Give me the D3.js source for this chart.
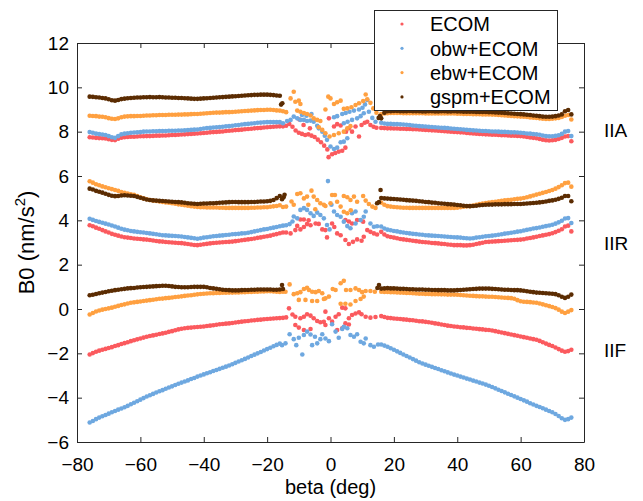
<!DOCTYPE html>
<html><head><meta charset="utf-8">
<script src="https://cdn.jsdelivr.net/npm/d3@7"></script>
<style>
body{margin:0;background:#fff}
svg{display:block}
text{font-family:"Liberation Sans",Arial,Helvetica,sans-serif;fill:#000}
</style>
</head><body>
<svg id="chart" width="643" height="501"></svg>
<script>
// ---------------- DATA ----------------
const seriesNames = ["ECOM", "obw+ECOM", "ebw+ECOM", "gspm+ECOM"];
const groupNames = ["IIA", "IIR", "IIF"];
const xTicks = [-80, -60, -40, -20, 0, 20, 40, 60, 80];
const yTicks = [-6, -4, -2, 0, 2, 4, 6, 8, 10, 12];

// beta sample grid of the smooth bands (deg)
const betaL = d3.range(-76, -15, 1);   // -76 .. -16
const betaR = d3.range(16, 77, 1);     //  16 .. 76

// ----- IIA -----
const IIA_ECOM_L = [7.75,7.74,7.72,7.71,7.70,7.69,7.66,7.63,7.62,7.68,7.73,7.75,7.76,7.77,7.77,7.78,7.79,7.79,7.80,7.80,7.81,7.82,7.82,7.83,7.83,7.84,7.85,7.85,7.86,7.87,7.88,7.89,7.90,7.91,7.92,7.93,7.94,7.95,7.97,7.98,7.99,8.00,8.01,8.03,8.04,8.05,8.07,8.08,8.09,8.11,8.12,8.13,8.15,8.16,8.17,8.19,8.20,8.21,8.22,8.23,8.24];
const IIA_ECOM_R = [8.17,8.16,8.15,8.15,8.14,8.14,8.13,8.13,8.12,8.12,8.11,8.11,8.10,8.09,8.08,8.07,8.06,8.05,8.04,8.03,8.02,8.01,8.00,7.99,7.98,7.97,7.96,7.94,7.93,7.92,7.91,7.90,7.89,7.88,7.87,7.86,7.86,7.85,7.84,7.84,7.83,7.82,7.82,7.81,7.80,7.78,7.76,7.74,7.72,7.70,7.67,7.64,7.61,7.60,7.61,7.63,7.67,7.72,7.78,7.80,7.57];
const IIA_OBW_L = [7.98,7.95,7.91,7.89,7.87,7.85,7.80,7.75,7.72,7.80,7.88,7.91,7.93,7.95,7.96,7.97,7.98,8.00,8.01,8.01,8.02,8.02,8.03,8.03,8.03,8.04,8.04,8.04,8.05,8.05,8.06,8.07,8.08,8.09,8.10,8.12,8.14,8.16,8.17,8.19,8.20,8.21,8.22,8.24,8.25,8.27,8.29,8.30,8.32,8.34,8.35,8.37,8.38,8.40,8.41,8.42,8.43,8.43,8.43,8.43,8.43];
const IIA_OBW_R = [8.40,8.37,8.35,8.35,8.34,8.34,8.33,8.32,8.31,8.30,8.28,8.27,8.25,8.24,8.23,8.22,8.21,8.20,8.19,8.18,8.17,8.16,8.14,8.13,8.12,8.11,8.10,8.08,8.07,8.06,8.05,8.04,8.03,8.03,8.02,8.01,8.01,8.00,7.99,7.99,7.98,7.97,7.97,7.96,7.95,7.94,7.92,7.91,7.89,7.88,7.86,7.83,7.80,7.79,7.79,7.81,7.84,7.90,8.00,8.03,7.80];
const IIA_EBW_L = [8.72,8.71,8.70,8.68,8.67,8.65,8.61,8.58,8.57,8.60,8.65,8.68,8.69,8.70,8.70,8.71,8.71,8.72,8.73,8.73,8.74,8.74,8.75,8.75,8.75,8.76,8.76,8.76,8.77,8.77,8.78,8.78,8.79,8.80,8.80,8.81,8.82,8.83,8.84,8.85,8.86,8.86,8.87,8.88,8.88,8.89,8.90,8.91,8.92,8.93,8.94,8.95,8.96,8.97,8.98,8.98,8.99,8.99,8.98,8.96,8.95];
const IIA_EBW_R = [8.80,8.82,8.83,8.84,8.84,8.84,8.84,8.83,8.83,8.83,8.83,8.83,8.83,8.83,8.82,8.82,8.82,8.82,8.82,8.82,8.82,8.82,8.82,8.82,8.81,8.81,8.80,8.80,8.80,8.79,8.79,8.79,8.78,8.78,8.78,8.77,8.76,8.75,8.74,8.73,8.72,8.71,8.70,8.69,8.68,8.67,8.66,8.64,8.63,8.62,8.60,8.58,8.57,8.57,8.58,8.60,8.62,8.66,8.72,8.75,8.55];
const IIA_GSPM_L = [9.58,9.57,9.55,9.54,9.52,9.50,9.46,9.42,9.40,9.43,9.47,9.49,9.51,9.52,9.53,9.54,9.54,9.55,9.55,9.56,9.55,9.55,9.56,9.55,9.54,9.54,9.53,9.53,9.52,9.52,9.51,9.50,9.49,9.48,9.48,9.49,9.50,9.51,9.52,9.53,9.54,9.55,9.56,9.57,9.58,9.59,9.60,9.61,9.62,9.63,9.64,9.65,9.66,9.66,9.67,9.67,9.67,9.66,9.65,9.63,9.62];
const IIA_GSPM_R = [8.60,8.85,8.92,8.92,8.93,8.93,8.92,8.92,8.92,8.93,8.92,8.92,8.92,8.91,8.91,8.92,8.92,8.91,8.91,8.92,8.92,8.91,8.91,8.92,8.91,8.91,8.90,8.90,8.90,8.90,8.89,8.89,8.89,8.89,8.88,8.88,8.87,8.86,8.85,8.84,8.83,8.82,8.81,8.80,8.79,8.78,8.76,8.75,8.73,8.72,8.70,8.68,8.67,8.67,8.68,8.70,8.73,8.78,8.92,8.98,8.78];

// ----- IIR -----
const IIR_ECOM_L = [3.78,3.73,3.67,3.62,3.56,3.50,3.45,3.39,3.35,3.31,3.27,3.24,3.22,3.20,3.18,3.17,3.16,3.14,3.13,3.11,3.09,3.07,3.05,3.04,3.02,3.01,3.00,2.99,2.98,2.97,2.95,2.93,2.91,2.89,2.88,2.90,2.92,2.94,2.96,2.98,2.99,3.00,3.01,3.02,3.03,3.04,3.06,3.08,3.10,3.12,3.14,3.16,3.18,3.21,3.23,3.26,3.28,3.31,3.35,3.38,3.42];
const IIR_ECOM_R = [3.48,3.36,3.28,3.25,3.22,3.19,3.16,3.14,3.12,3.10,3.08,3.06,3.04,3.02,3.01,3.00,2.98,2.97,2.96,2.94,2.93,2.91,2.90,2.88,2.88,2.88,2.87,2.87,2.88,2.90,2.93,2.96,2.99,3.02,3.03,3.04,3.05,3.06,3.07,3.08,3.09,3.10,3.11,3.12,3.13,3.15,3.18,3.20,3.23,3.26,3.29,3.32,3.35,3.38,3.42,3.47,3.53,3.60,3.72,3.76,3.50];
const IIR_OBW_L = [4.07,4.02,3.97,3.93,3.89,3.85,3.81,3.77,3.72,3.67,3.62,3.58,3.55,3.52,3.50,3.48,3.46,3.45,3.43,3.41,3.39,3.37,3.35,3.33,3.32,3.31,3.30,3.29,3.28,3.27,3.25,3.23,3.21,3.19,3.17,3.19,3.22,3.24,3.26,3.28,3.29,3.31,3.32,3.34,3.35,3.37,3.38,3.39,3.41,3.42,3.44,3.47,3.50,3.53,3.56,3.59,3.61,3.64,3.67,3.70,3.73];
const IIR_OBW_R = [3.72,3.63,3.58,3.55,3.52,3.50,3.47,3.45,3.43,3.41,3.39,3.38,3.36,3.35,3.33,3.32,3.31,3.30,3.29,3.28,3.27,3.26,3.25,3.24,3.23,3.22,3.20,3.19,3.18,3.19,3.22,3.24,3.26,3.28,3.29,3.31,3.33,3.35,3.37,3.40,3.42,3.44,3.46,3.49,3.51,3.54,3.57,3.60,3.63,3.65,3.68,3.71,3.74,3.77,3.80,3.85,3.91,3.98,4.08,4.10,3.88];
const IIR_EBW_L = [5.76,5.70,5.63,5.58,5.53,5.49,5.45,5.41,5.37,5.33,5.28,5.24,5.21,5.18,5.15,5.10,5.04,4.99,4.95,4.92,4.89,4.87,4.85,4.83,4.81,4.79,4.77,4.75,4.72,4.70,4.68,4.66,4.64,4.62,4.60,4.59,4.59,4.58,4.58,4.58,4.58,4.57,4.57,4.56,4.56,4.56,4.56,4.56,4.56,4.56,4.56,4.57,4.57,4.58,4.58,4.59,4.59,4.61,4.63,4.65,4.68];
const IIR_EBW_R = [4.80,4.70,4.64,4.62,4.60,4.59,4.58,4.57,4.57,4.56,4.56,4.56,4.56,4.56,4.56,4.56,4.56,4.56,4.56,4.56,4.56,4.56,4.56,4.56,4.57,4.59,4.61,4.63,4.64,4.67,4.70,4.73,4.76,4.78,4.80,4.82,4.84,4.86,4.88,4.90,4.92,4.93,4.95,4.97,4.98,5.01,5.04,5.08,5.12,5.16,5.20,5.24,5.28,5.32,5.37,5.43,5.50,5.58,5.68,5.70,5.52];
const IIR_GSPM_L = [5.43,5.39,5.33,5.29,5.25,5.20,5.15,5.11,5.09,5.10,5.12,5.13,5.12,5.11,5.10,5.06,5.02,4.98,4.94,4.92,4.90,4.89,4.88,4.87,4.86,4.85,4.84,4.83,4.82,4.81,4.79,4.77,4.76,4.75,4.74,4.75,4.76,4.76,4.77,4.77,4.78,4.79,4.80,4.81,4.82,4.83,4.83,4.82,4.82,4.82,4.82,4.83,4.83,4.84,4.85,4.85,4.86,4.88,4.92,5.00,5.10];
const IIR_GSPM_R = [5.01,4.99,4.98,4.97,4.96,4.95,4.94,4.93,4.91,4.90,4.89,4.88,4.86,4.85,4.83,4.82,4.80,4.79,4.77,4.76,4.75,4.73,4.72,4.71,4.69,4.68,4.66,4.65,4.64,4.65,4.66,4.68,4.69,4.70,4.71,4.71,4.72,4.72,4.72,4.73,4.73,4.73,4.74,4.74,4.74,4.75,4.76,4.77,4.78,4.79,4.81,4.83,4.85,4.88,4.90,4.93,4.97,5.02,5.10,5.10,4.86];

// ----- IIF -----
const IIF_ECOM_L = [-2.05,-1.99,-1.93,-1.88,-1.84,-1.80,-1.76,-1.72,-1.67,-1.63,-1.58,-1.54,-1.50,-1.45,-1.41,-1.37,-1.33,-1.29,-1.25,-1.22,-1.19,-1.16,-1.13,-1.10,-1.07,-1.03,-1.00,-0.96,-0.92,-0.89,-0.87,-0.85,-0.84,-0.82,-0.81,-0.80,-0.79,-0.77,-0.75,-0.73,-0.71,-0.69,-0.68,-0.66,-0.65,-0.63,-0.61,-0.59,-0.57,-0.55,-0.54,-0.52,-0.51,-0.49,-0.48,-0.46,-0.45,-0.44,-0.43,-0.42,-0.41];
const IIF_ECOM_R = [-0.32,-0.36,-0.40,-0.41,-0.43,-0.44,-0.45,-0.47,-0.48,-0.50,-0.51,-0.53,-0.55,-0.56,-0.58,-0.60,-0.62,-0.65,-0.67,-0.70,-0.72,-0.75,-0.77,-0.79,-0.80,-0.82,-0.83,-0.85,-0.86,-0.88,-0.89,-0.91,-0.92,-0.94,-0.95,-0.97,-1.00,-1.03,-1.06,-1.09,-1.12,-1.15,-1.18,-1.21,-1.24,-1.27,-1.30,-1.33,-1.36,-1.39,-1.44,-1.50,-1.56,-1.62,-1.67,-1.74,-1.81,-1.88,-1.93,-1.90,-1.84];
const IIF_OBW_L = [-5.12,-5.05,-4.97,-4.90,-4.84,-4.78,-4.72,-4.66,-4.60,-4.54,-4.49,-4.43,-4.37,-4.30,-4.23,-4.16,-4.09,-4.02,-3.95,-3.89,-3.83,-3.77,-3.71,-3.66,-3.60,-3.54,-3.49,-3.43,-3.37,-3.32,-3.27,-3.22,-3.16,-3.11,-3.05,-3.00,-2.95,-2.90,-2.85,-2.80,-2.75,-2.70,-2.65,-2.60,-2.55,-2.49,-2.43,-2.37,-2.31,-2.25,-2.19,-2.12,-2.06,-2.00,-1.94,-1.87,-1.81,-1.75,-1.68,-1.62,-1.56];
const IIF_OBW_R = [-1.60,-1.65,-1.70,-1.77,-1.84,-1.91,-1.98,-2.05,-2.12,-2.19,-2.26,-2.33,-2.40,-2.46,-2.51,-2.56,-2.61,-2.66,-2.71,-2.76,-2.81,-2.86,-2.91,-2.96,-3.00,-3.05,-3.09,-3.14,-3.18,-3.23,-3.27,-3.32,-3.36,-3.41,-3.46,-3.52,-3.58,-3.64,-3.70,-3.76,-3.82,-3.88,-3.94,-4.00,-4.06,-4.12,-4.18,-4.25,-4.31,-4.37,-4.42,-4.48,-4.54,-4.60,-4.66,-4.74,-4.83,-4.93,-5.00,-4.97,-4.90];
const IIF_EBW_L = [-0.25,-0.18,-0.11,-0.07,-0.03,0.00,0.03,0.06,0.10,0.14,0.18,0.21,0.25,0.28,0.30,0.32,0.34,0.36,0.38,0.40,0.42,0.44,0.46,0.47,0.49,0.50,0.52,0.54,0.55,0.57,0.59,0.61,0.62,0.64,0.66,0.68,0.69,0.70,0.71,0.71,0.72,0.72,0.73,0.73,0.74,0.74,0.75,0.75,0.76,0.76,0.77,0.77,0.78,0.78,0.79,0.79,0.80,0.80,0.79,0.78,0.77];
const IIF_EBW_R = [0.78,0.77,0.77,0.76,0.76,0.75,0.74,0.73,0.72,0.72,0.71,0.70,0.69,0.69,0.68,0.68,0.67,0.67,0.67,0.66,0.66,0.65,0.65,0.65,0.64,0.63,0.62,0.61,0.60,0.59,0.58,0.57,0.57,0.56,0.55,0.55,0.54,0.53,0.52,0.51,0.50,0.49,0.46,0.40,0.35,0.33,0.32,0.31,0.29,0.28,0.25,0.21,0.17,0.13,0.09,0.04,-0.03,-0.12,-0.18,-0.12,-0.05];
const IIF_GSPM_L = [0.62,0.64,0.68,0.71,0.74,0.77,0.80,0.82,0.85,0.87,0.89,0.91,0.93,0.94,0.95,0.97,0.98,0.99,1.00,1.01,1.02,1.03,1.04,1.05,1.05,1.04,1.02,1.00,0.99,0.98,0.98,0.98,0.99,1.00,1.00,1.00,1.00,0.98,0.95,0.93,0.91,0.89,0.87,0.86,0.85,0.84,0.84,0.84,0.85,0.86,0.86,0.87,0.87,0.88,0.88,0.88,0.88,0.88,0.87,0.87,0.88];
const IIF_GSPM_R = [0.92,0.93,0.94,0.93,0.93,0.92,0.91,0.91,0.90,0.89,0.89,0.88,0.88,0.88,0.87,0.87,0.86,0.86,0.85,0.85,0.85,0.84,0.84,0.84,0.85,0.86,0.87,0.88,0.89,0.90,0.91,0.92,0.92,0.92,0.92,0.91,0.90,0.89,0.88,0.87,0.87,0.86,0.85,0.85,0.84,0.82,0.80,0.78,0.76,0.74,0.73,0.72,0.71,0.70,0.69,0.67,0.62,0.55,0.50,0.55,0.65];

// ----- scattered points near beta = 0: [beta, B0] -----
const IIA_ECOM_C = [[-15,8.24],[-14,8.27],[-13,8.35],[-12,8.22],[-11,8.05],[-10,7.95],[-9,7.90],[-8,7.85],[-7,7.88],[-6,7.82],[-5,7.76],[-4,7.64],[-3,7.52],[-2,7.37],[-1,7.20],[-0.6,6.85],[0.5,6.98],[1.5,7.04],[2.6,7.10],[3.7,7.14],[4.7,7.28],[-0.5,8.60],[1.1,8.23],[2.1,8.34],[3.2,8.28],[4.9,8.00],[5.8,8.15],[6.8,8.00],[7.9,8.23],[9.0,7.78],[9.8,8.30],[10.8,8.40],[11.6,8.45],[12.6,8.30],[13.6,8.22],[14.5,8.18],[-8.5,8.30],[-6.5,8.15],[-9.8,8.55]];
const IIA_OBW_C = [[-15,8.38],[-13.7,8.48],[-12.6,8.53],[-11.6,8.68],[-10.5,8.60],[-9.5,8.53],[-8.4,8.53],[-7.4,8.48],[-6.3,8.50],[-5.3,8.45],[-4.2,8.27],[-3.7,8.15],[-2.6,8.00],[-1.8,7.82],[-1.1,7.63],[0,7.33],[1.1,7.22],[2.1,7.28],[3.2,7.52],[4.2,7.55],[5.3,7.70],[-9.0,8.75],[-7.6,8.72],[-6,8.80],[1.1,8.65],[2.1,8.70],[3.7,8.80],[4.8,8.84],[6.0,8.90],[7.4,8.95],[9.0,9.00],[10.1,9.08],[10.9,9.23],[11.6,9.43],[4.2,8.38],[5.4,8.45],[6.8,8.53],[8.4,8.60],[9.5,8.70],[10.5,8.83],[12.1,8.90],[13.2,8.62],[14.2,8.45]];
const IIA_EBW_C = [[-15,8.92],[-14,8.88],[-12.6,9.50],[-11.6,9.80],[-11.1,9.35],[-10,9.40],[-9.5,9.25],[-10.5,8.95],[-9.5,8.90],[-8.4,8.84],[-7.4,8.80],[-6.3,8.73],[-5.3,8.60],[-4.2,8.53],[-3.2,8.48],[-3.7,8.20],[-2.6,8.08],[-1.6,7.93],[-0.3,7.78],[1.1,7.85],[2.6,7.93],[4.2,8.00],[5.3,8.15],[6.3,8.25],[-0.7,9.58],[0,9.50],[1.1,9.25],[2.1,9.33],[3.2,9.40],[-1.6,9.00],[4.2,9.03],[5.3,9.05],[6.6,9.10],[7.9,9.20],[9.0,9.28],[10.3,9.38],[11.1,9.68],[11.6,9.46],[12.6,9.30],[13.5,9.05],[14.5,8.85]];
const IIA_GSPM_C = [[-15.6,9.22],[-15.2,9.28],[15.2,8.62],[15.6,8.70]];

const IIR_ECOM_C = [[-15,3.45],[-14,3.45],[-12.6,3.41],[-11.1,3.56],[-9.5,3.59],[-8.4,3.70],[-7.4,3.83],[-6.3,3.78],[-4.7,3.86],[-3.7,3.84],[-2.6,3.59],[-1.6,3.56],[-1.1,3.23],[0.5,3.86],[2.1,3.41],[3.2,3.33],[4.7,3.11],[5.8,2.93],[7.1,3.03],[8.4,3.14],[9.8,3.08],[10.5,3.26],[11.6,3.56],[12.6,3.48],[13.7,3.41],[14.7,3.36],[-9.5,4.04],[-8.4,4.04],[-6.9,4.00],[4.7,4.01],[5.8,3.95],[6.8,3.86],[8.4,4.01],[10.3,3.94],[-10.5,3.75],[1.2,3.70]];
const IIR_OBW_C = [[-15,3.76],[-14,3.78],[-12.9,3.83],[-11.6,4.17],[-10.5,4.09],[-9.5,4.47],[-8.4,4.55],[-7.4,4.47],[-6.3,4.32],[-5.3,4.20],[-4.2,4.35],[-3.2,4.24],[-2.1,4.09],[-1.1,3.79],[-0.3,3.59],[-0.8,5.77],[1.1,4.40],[2.1,4.24],[3.2,4.16],[4.2,3.94],[5.3,3.74],[6.3,3.64],[7.9,3.86],[9.5,4.01],[10.5,4.16],[11.1,4.40],[12.6,3.86],[13.7,3.71],[14.7,3.73],[6.8,4.32],[7.9,4.40],[0.3,4.70],[-12,3.95]];
const IIR_EBW_C = [[-15,4.60],[-14,4.62],[-12.3,4.85],[-11.6,4.70],[-10.5,5.19],[-9.5,5.22],[-8.4,4.99],[-7.4,5.07],[-6,5.34],[-5.3,5.07],[-4.2,4.92],[-3.2,4.77],[-2.1,4.70],[-1.6,4.65],[0,4.77],[0.5,5.14],[1.4,5.14],[2.1,4.84],[3.2,4.62],[4.2,4.39],[5.3,4.32],[4.2,5.10],[5.3,5.04],[6.3,4.92],[7.4,5.07],[8.4,4.84],[10.3,5.10],[11.1,4.89],[12.1,4.74],[13.2,4.62],[14.2,4.56],[-7,4.70],[-4.8,4.50],[6.4,4.45]];
const IIR_GSPM_C = [[-15.3,4.95],[-14.8,5.04],[-14.5,5.15],[14.7,4.77],[15.3,4.82],[15.8,5.37]];

const IIF_ECOM_C = [[-15,-0.40],[-14,-0.38],[-13.1,0.03],[-12,-0.25],[-11.1,-0.35],[-9.5,-0.42],[-8.4,-0.35],[-7.4,-0.24],[-6.3,-0.30],[-5.3,-0.42],[-4.2,-0.54],[-3.2,-0.60],[-2.1,-0.58],[-1.6,-0.12],[-0.5,-0.42],[0.5,-0.57],[1.6,-0.35],[2.6,-0.24],[3.7,0.06],[4.7,0.03],[5.8,-0.42],[6.8,-0.27],[7.9,-0.20],[9.0,-0.15],[9.8,-0.24],[11.1,-0.35],[12.6,-0.39],[14.2,-0.36],[-11.1,-0.72],[-10,-0.84],[-8.4,-0.95],[-6.3,-0.90],[-1.6,-0.72],[2.1,-0.95],[3.7,-0.87],[4.7,-0.65],[5.8,-0.70]];
const IIF_OBW_C = [[-15.3,-1.63],[-14.2,-1.55],[-12.9,-1.14],[-11.6,-1.36],[-10.8,-1.63],[-10,-1.30],[-8.9,-2.05],[-8.4,-1.17],[-7.4,-1.02],[-6.3,-1.15],[-5.8,-1.63],[-4.9,-1.25],[-4.2,-1.55],[-3.2,-1.36],[-2.6,-1.14],[-1.6,-1.33],[-0.5,-1.45],[0.5,-0.69],[1.6,-1.02],[2.6,-1.30],[3.7,-0.90],[4.2,-0.80],[5.3,-0.87],[6.3,-1.17],[7.4,-1.25],[8.4,-1.14],[9.5,-1.48],[10.5,-1.55],[11.1,-1.33],[12.6,-1.63],[13.7,-1.70],[15,-1.60]];
const IIF_EBW_C = [[-15,0.78],[-14.2,0.78],[-12.9,1.11],[-11.6,0.67],[-10.5,0.71],[-9.5,0.76],[-8.4,0.90],[-7.4,0.96],[-6.8,0.86],[-5.8,0.78],[-4.7,0.76],[-3.7,0.81],[-2.6,0.71],[-1.6,0.48],[-0.5,0.56],[0.7,0.90],[1.6,0.86],[3.2,1.16],[4.2,1.27],[4.9,0.86],[6.3,0.86],[7.9,0.93],[9.0,0.86],[10,0.76],[11.1,0.81],[12.6,0.81],[14,0.78],[-10,0.41],[-7.9,0.41],[-5.8,0.36],[-4.2,0.36],[-2.1,0.45],[3.2,0.24],[4.7,0.24],[6.3,0.20],[7.9,0.36],[9.5,0.45],[10.5,0.56]];
const IIF_GSPM_C = [[-15.3,1.08],[-15,0.90],[14.8,0.95],[15.3,1.08]];

// ---------------- STYLE / LAYOUT ----------------
const colors = ["#fb5a5e", "#6ea8e0", "#ffa040", "#5b2c02"];
const M = {left: 77, right: 584, top: 43, bottom: 442};
const axisColor = "#262626";

const svg = d3.select("#chart");
const x = d3.scaleLinear().domain([-80, 80]).range([M.left, M.right]);
const y = d3.scaleLinear().domain([-6, 12]).range([M.bottom, M.top]);

// assemble point table per series
const table = {
  IIA: {L: [IIA_ECOM_L, IIA_OBW_L, IIA_EBW_L, IIA_GSPM_L], R: [IIA_ECOM_R, IIA_OBW_R, IIA_EBW_R, IIA_GSPM_R], C: [IIA_ECOM_C, IIA_OBW_C, IIA_EBW_C, IIA_GSPM_C]},
  IIR: {L: [IIR_ECOM_L, IIR_OBW_L, IIR_EBW_L, IIR_GSPM_L], R: [IIR_ECOM_R, IIR_OBW_R, IIR_EBW_R, IIR_GSPM_R], C: [IIR_ECOM_C, IIR_OBW_C, IIR_EBW_C, IIR_GSPM_C]},
  IIF: {L: [IIF_ECOM_L, IIF_OBW_L, IIF_EBW_L, IIF_GSPM_L], R: [IIF_ECOM_R, IIF_OBW_R, IIF_EBW_R, IIF_GSPM_R], C: [IIF_ECOM_C, IIF_OBW_C, IIF_EBW_C, IIF_GSPM_C]}
};
const pointsBySeries = seriesNames.map(() => []);
groupNames.forEach(g => {
  seriesNames.forEach((s, i) => {
    table[g].L[i].forEach((v, k) => pointsBySeries[i].push([betaL[k], v]));
    table[g].R[i].forEach((v, k) => pointsBySeries[i].push([betaR[k], v]));
    table[g].C[i].forEach(p => pointsBySeries[i].push(p));
  });
});

// axes (ticks pointing inward, box on all sides)
function styleAxis(g) {
  g.selectAll(".domain").attr("stroke", axisColor).attr("stroke-width", 1);
  g.selectAll(".tick line").attr("stroke", axisColor).attr("stroke-width", 1);
  g.selectAll(".tick text").attr("font-family", '"Liberation Sans", Arial, sans-serif').attr("font-size", 19).attr("fill", "#000");
}
svg.append("g").attr("transform", `translate(0,${M.bottom})`)
  .call(d3.axisBottom(x).tickValues(xTicks).tickSizeInner(-5).tickSizeOuter(0).tickPadding(16))
  .call(styleAxis);
svg.append("g").attr("transform", `translate(0,${M.top})`)
  .call(d3.axisTop(x).tickValues(xTicks).tickSizeInner(-5).tickSizeOuter(0).tickFormat(""))
  .call(styleAxis);
svg.append("g").attr("transform", `translate(${M.left},0)`)
  .call(d3.axisLeft(y).tickValues(yTicks).tickSizeInner(-5).tickSizeOuter(0).tickPadding(8))
  .call(styleAxis);
svg.append("g").attr("transform", `translate(${M.right},0)`)
  .call(d3.axisRight(y).tickValues(yTicks).tickSizeInner(-5).tickSizeOuter(0).tickFormat(""))
  .call(styleAxis);

// points
const plot = svg.append("g");
pointsBySeries.forEach((pts, i) => {
  plot.append("g").selectAll("circle").data(pts).join("circle")
    .attr("cx", d => x(d[0])).attr("cy", d => y(d[1]))
    .attr("r", 2.3).attr("fill", colors[i]);
});

// group labels
const groupLabelY = {IIA: 8.05, IIR: 2.98, IIF: -1.85};
groupNames.forEach(g => {
  svg.append("text").attr("x", 604).attr("y", y(groupLabelY[g])).attr("dy", "0.35em")
    .attr("font-size", 19).text(g);
});

// axis titles
svg.append("text").attr("x", (M.left + M.right) / 2).attr("y", 494)
  .attr("text-anchor", "middle").attr("font-size", 20).text("beta (deg)");
const yl = svg.append("text").attr("transform", `translate(34,${(M.top + M.bottom) / 2}) rotate(-90)`)
  .attr("text-anchor", "middle").attr("font-size", 22);
yl.append("tspan").text("B0 (nm/s");
yl.append("tspan").attr("font-size", 15).attr("dy", -9).text("2");
yl.append("tspan").attr("dy", 9).text(")");

// legend
const lg = svg.append("g");
lg.append("rect").attr("x", 374.5).attr("y", 10.5).attr("width", 183).attr("height", 100)
  .attr("fill", "#fff").attr("stroke", axisColor).attr("stroke-width", 1);
seriesNames.forEach((s, i) => {
  const cy = 24 + i * 24.3;
  lg.append("circle").attr("cx", 402).attr("cy", cy).attr("r", 1.6).attr("fill", colors[i]);
  lg.append("text").attr("x", 430).attr("y", cy).attr("dy", "0.36em").attr("font-size", 20).text(s);
});
</script>
</body></html>
